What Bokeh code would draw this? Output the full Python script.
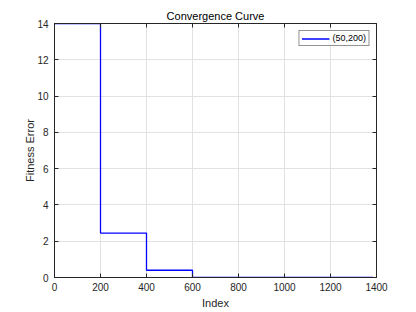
from bokeh.plotting import figure
from bokeh.models import LinearAxis, Range1d, FixedTicker, Legend, LegendItem
from bokeh.embed import file_html
from bokeh.resources import INLINE

# Data
index_steps = [0, 200, 400, 600, 1385]
fitness_error = [14.0, 2.45, 0.4, 0.0, 0.0]
series_name = "(50,200)"
x_ticks = [0, 200, 400, 600, 800, 1000, 1200, 1400]
y_ticks = [0, 2, 4, 6, 8, 10, 12, 14]

FONT = "Liberation Sans"
TXT = "#262626"

p = figure(width=416, height=312, output_backend="svg", toolbar_location=None,
           x_range=Range1d(0, 1400), y_range=Range1d(0, 14),
           min_border_left=54, min_border_right=40, min_border_top=23,
           min_border_bottom=35, x_axis_location=None, y_axis_location=None)

p.title.text = "Convergence Curve"
p.title.align = "center"
p.title.text_font = FONT
p.title.text_font_size = "11px"
p.title.text_font_style = "normal"
p.title.text_color = "#000000"
p.title.standoff = 3
p.title.offset = 0

p.outline_line_color = "#262626"
p.outline_line_width = 1

def style_axis(ax):
    ax.major_tick_in = 4
    ax.major_tick_out = 0
    ax.minor_tick_in = 0
    ax.minor_tick_out = 0
    ax.axis_line_color = "#262626"
    ax.major_tick_line_color = "#262626"
    ax.major_label_text_font = FONT
    ax.major_label_text_font_size = "10px"
    ax.major_label_text_color = TXT
    ax.axis_label_text_font = FONT
    ax.axis_label_text_font_size = "11px"
    ax.axis_label_text_font_style = "normal"
    ax.axis_label_text_color = TXT

xb = LinearAxis(ticker=FixedTicker(ticks=x_ticks), axis_label="Index")
style_axis(xb)
xb.major_label_standoff = 5
xb.axis_label_standoff = 3
p.add_layout(xb, "below")

yl = LinearAxis(ticker=FixedTicker(ticks=y_ticks), axis_label="Fitness Error")
style_axis(yl)
yl.major_label_standoff = 6
yl.axis_label_standoff = -2
p.add_layout(yl, "left")

xt = LinearAxis(ticker=FixedTicker(ticks=x_ticks), major_label_overrides={t: "" for t in x_ticks})
style_axis(xt)
xt.major_label_standoff = 0
p.add_layout(xt, "above")

yr = LinearAxis(ticker=FixedTicker(ticks=y_ticks), major_label_overrides={t: "" for t in y_ticks})
style_axis(yr)
yr.major_label_standoff = 0
p.add_layout(yr, "right")

p.xgrid.ticker = FixedTicker(ticks=x_ticks)
p.ygrid.ticker = FixedTicker(ticks=y_ticks)
p.grid.grid_line_color = "#e2e2e2"
p.grid.grid_line_width = 1

r = p.step(x=index_steps, y=fitness_error, mode="after", line_color="#0000ff", line_width=1.3)

legend = Legend(items=[LegendItem(label=series_name, renderers=[r])],
                location="top_right")
legend.label_text_font = FONT
legend.label_text_font_size = "9px"
legend.label_text_color = "#000000"
legend.glyph_width = 28
legend.glyph_height = 9
legend.label_height = 9
legend.label_standoff = 3
legend.padding = 2
legend.spacing = 0
legend.margin = 7
legend.border_line_color = "#262626"
legend.border_line_width = 1
legend.background_fill_color = "white"
legend.background_fill_alpha = 1
p.add_layout(legend)

open("out.html", "w").write(file_html(p, INLINE))
